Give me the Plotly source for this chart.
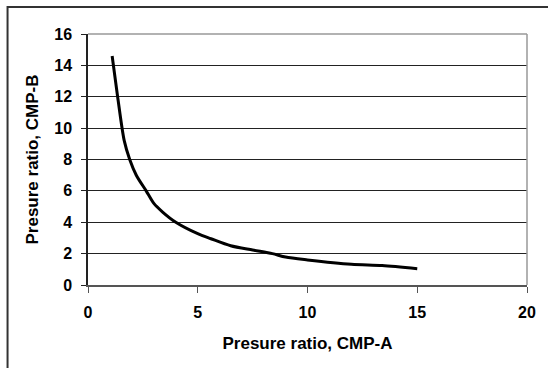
import plotly.graph_objects as go

# Pressure ratio of compressor A vs compressor B
cmp_a = [1.1, 1.35, 1.65, 1.9, 2.2, 2.65, 3.0, 3.4, 4.0, 5.0, 5.6, 6.5, 7.5, 8.4, 9.0, 10.0, 12.0, 13.4, 15.0]
cmp_b = [14.6, 12.0, 9.2, 8.0, 7.0, 6.0, 5.2, 4.65, 4.0, 3.27, 2.95, 2.5, 2.23, 2.0, 1.78, 1.6, 1.32, 1.24, 1.04]

x_ticks = [0, 5, 10, 15, 20]
y_ticks = [0, 2, 4, 6, 8, 10, 12, 14, 16]

FONT = "Liberation Sans, Arial, sans-serif"

fig = go.Figure()
fig.add_trace(go.Scatter(
    x=cmp_a, y=cmp_b, mode="lines",
    line=dict(color="black", width=3, shape="spline", smoothing=0.8),
    showlegend=False, hoverinfo="skip",
))

W, H = 548, 368
L, R, T, B = 88, 18, 34, 83
pw, ph = W - L - R, H - T - B

def px_x(p):
    return (p - L) / pw

def px_y(p):
    return (H - B - p) / ph

fig.update_layout(
    width=W, height=H,
    margin=dict(l=L, r=R, t=T, b=B),
    paper_bgcolor="white", plot_bgcolor="white",
    font=dict(family=FONT, size=16, color="black"),
    xaxis=dict(
        range=[0, 20], tickvals=x_ticks, ticktext=[f"<b>{v}</b>" for v in x_ticks],
        tickfont=dict(size=16),
        showgrid=False, zeroline=False,
        showline=True, linecolor="#555555", linewidth=1.5,
        ticks="outside", ticklen=6, tickcolor="#555555", tickwidth=1,
        ticklabelstandoff=6,
        title=dict(text="<b>Presure ratio, CMP-A</b>", font=dict(size=17), standoff=17),
    ),
    yaxis=dict(
        range=[0, 16], tickvals=y_ticks, ticktext=[f"<b>{v}</b>" for v in y_ticks],
        tickfont=dict(size=16),
        showgrid=True, gridcolor="#222222", gridwidth=1,
        zeroline=False,
        showline=True, linecolor="#222222", linewidth=1.5,
        ticks="outside", ticklen=5, tickcolor="#222222", tickwidth=1,
        ticklabelstandoff=6,
        title=dict(text="<b>Presure ratio, CMP-B</b>", font=dict(size=17), standoff=11),
    ),
    shapes=[
        # plot-area border on top and right
        dict(type="line", xref="paper", yref="paper", x0=0, x1=1, y0=1, y1=1,
             line=dict(color="#999999", width=1.5)),
        dict(type="line", xref="paper", yref="paper", x0=1, x1=1, y0=0, y1=1,
             line=dict(color="#999999", width=1.5)),
        # outer chart frame
        dict(type="rect", xref="paper", yref="paper",
             x0=px_x(7), x1=px_x(600), y0=px_y(7), y1=px_y(400),
             line=dict(color="#333333", width=2), fillcolor="rgba(0,0,0,0)", layer="above"),
    ],
)

fig.write_html("out.html")
